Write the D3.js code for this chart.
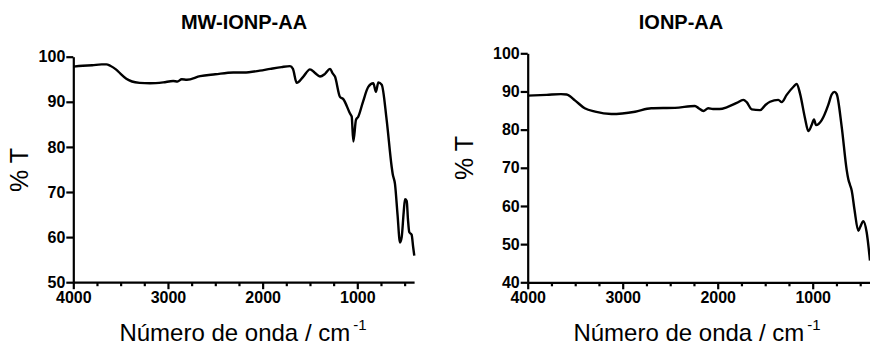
<!DOCTYPE html>
<html>
<head>
<meta charset="utf-8">
<script src="https://cdn.jsdelivr.net/npm/d3@7"></script>
<style>
  html, body { margin: 0; padding: 0; background: #fff; }
  svg { display: block; }
  text { font-family: "Liberation Sans", Arial, Helvetica, sans-serif; fill: #000; }
</style>
</head>
<body>
<script>
// FTIR spectra: wavenumber (cm-1) and % transmittance
const titles = ["MW-IONP-AA", "IONP-AA"];
const xTicksMajor = [4000, 3000, 2000, 1000];
const xTicksMinor = [3750, 3500, 3250, 2750, 2500, 2250, 1750, 1500, 1250, 750, 500];
const yTicksLeft = [50, 60, 70, 80, 90, 100];
const yTicksRight = [40, 50, 60, 70, 80, 90, 100];

const mwWavenumber = [4000, 3900, 3800, 3700, 3650, 3610, 3550, 3500, 3440, 3380, 3300, 3190, 3050, 2945, 2900, 2855, 2800, 2660, 2500, 2310, 2200, 2030, 1920, 1800, 1711, 1680, 1640, 1570, 1500, 1447, 1394, 1341, 1288, 1260, 1236, 1183, 1148, 1077, 1059, 1042, 1014, 990, 940, 884, 831, 803, 778, 742, 690, 637, 626, 602, 575, 549, 531, 510, 496, 478, 465, 451, 426, 410, 398];
const mwTransmittance = [97.8, 98.0, 98.1, 98.3, 98.3, 98.0, 97.2, 96.2, 95.1, 94.5, 94.2, 94.1, 94.3, 94.6, 94.5, 95.0, 94.9, 95.7, 96.1, 96.5, 96.5, 96.9, 97.3, 97.7, 97.9, 97.3, 94.2, 95.6, 97.2, 96.4, 95.6, 96.2, 97.3, 96.3, 95.6, 91.1, 90.6, 87.4, 86.7, 81.2, 86.0, 86.7, 90.0, 93.3, 94.1, 92.2, 94.3, 93.8, 86.0, 75.6, 74.0, 71.8, 65.0, 58.8, 60.0, 65.5, 68.4, 68.0, 64.0, 61.1, 60.5, 57.8, 55.9];

const ionpWavenumber = [4000, 3800, 3650, 3590, 3500, 3400, 3290, 3120, 2870, 2700, 2450, 2240, 2200, 2150, 2100, 2050, 1980, 1900, 1800, 1731, 1695, 1642, 1555, 1500, 1449, 1362, 1326, 1274, 1200, 1168, 1134, 1081, 1046, 1011, 986, 965, 905, 836, 800, 770, 747, 695, 642, 625, 607, 589, 560, 520, 500, 467, 432, 397];
const ionpTransmittance = [88.9, 89.1, 89.3, 89.2, 87.6, 85.6, 84.7, 84.1, 84.7, 85.6, 85.7, 86.2, 85.6, 84.9, 85.6, 85.4, 85.4, 85.9, 87.0, 87.8, 87.2, 85.3, 85.1, 86.4, 87.3, 87.8, 87.2, 89.1, 91.3, 92.0, 89.5, 83.0, 79.6, 81.2, 82.7, 81.2, 82.5, 86.5, 89.2, 89.9, 89.3, 80.8, 69.4, 67.0, 65.5, 64.0, 59.0, 53.5, 54.5, 56.0, 53.1, 45.7];

const svg = d3.select("body").append("svg")
  .attr("width", 870).attr("height", 348);

function drawPanel(p) {
  const x = d3.scaleLinear().domain([4000, 400]).range([p.left, p.right]);
  const y = d3.scaleLinear().domain([p.yMin, 100]).range([p.bottom, p.top]);
  const g = svg.append("g");

  // minor x ticks
  g.append("g")
    .attr("transform", `translate(0,${p.bottom})`)
    .call(d3.axisBottom(x).tickValues(xTicksMinor).tickSize(4).tickSizeOuter(0).tickFormat(""))
    .call(a => a.select(".domain").remove())
    .call(a => a.selectAll("line").attr("stroke", "#000").attr("stroke-width", 2.2));

  // major x ticks and labels
  g.append("g")
    .attr("transform", `translate(0,${p.bottom})`)
    .call(d3.axisBottom(x).tickValues(xTicksMajor).tickSize(7).tickSizeOuter(0).tickPadding(2).tickFormat(d3.format("d")))
    .call(a => a.select(".domain").attr("stroke", "#000").attr("stroke-width", 2.2))
    .call(a => a.selectAll("line").attr("stroke", "#000").attr("stroke-width", 2.2))
    .call(a => a.selectAll("text").attr("font-size", 16).attr("font-weight", "bold")
      .attr("font-family", "'Liberation Sans', Arial, sans-serif"));

  // y axis
  g.append("g")
    .attr("transform", `translate(${p.left},0)`)
    .call(d3.axisLeft(y).tickValues(p.yTicks).tickSize(7).tickSizeOuter(0).tickPadding(1).tickFormat(d3.format("d")))
    .call(a => a.select(".domain").attr("stroke", "#000").attr("stroke-width", 2.2))
    .call(a => a.selectAll("line").attr("stroke", "#000").attr("stroke-width", 2.2))
    .call(a => a.selectAll("text").attr("font-size", 16).attr("font-weight", "bold")
      .attr("font-family", "'Liberation Sans', Arial, sans-serif"));

  // spectrum
  const pts = p.wn.map((w, i) => [w, p.tr[i]]);
  g.append("path")
    .datum(pts)
    .attr("fill", "none")
    .attr("stroke", "#000")
    .attr("stroke-width", 2.4)
    .attr("stroke-linejoin", "round")
    .attr("d", d3.line().x(d => x(d[0])).y(d => y(d[1])).curve(d3.curveMonotoneX));

  // title
  g.append("text")
    .attr("x", p.titleX).attr("y", 29)
    .attr("text-anchor", "middle")
    .attr("font-size", 20).attr("font-weight", "bold")
    .text(p.title);

  // y label
  g.append("text")
    .attr("transform", `translate(${p.yLabelX},${p.yLabelY}) rotate(-90)`)
    .attr("text-anchor", "middle")
    .attr("font-size", 25)
    .text("% T");

  // x label
  const xl = g.append("text")
    .attr("x", p.xLabelX).attr("y", 341)
    .attr("text-anchor", "middle")
    .attr("font-size", 24);
  xl.append("tspan").text("Número de onda / cm");
  xl.append("tspan").attr("dy", -11).attr("dx", 3).attr("font-size", 15).text("-1");
}

drawPanel({
  title: titles[0], titleX: 244,
  left: 73.3, right: 414.1, top: 56.7, bottom: 282.2,
  yMin: 50, yTicks: yTicksLeft,
  wn: mwWavenumber, tr: mwTransmittance,
  yLabelX: 28, yLabelY: 170, xLabelX: 243
});

drawPanel({
  title: titles[1], titleX: 681,
  left: 527.7, right: 869.7, top: 53.3, bottom: 282.3,
  yMin: 40, yTicks: yTicksRight,
  wn: ionpWavenumber, tr: ionpTransmittance,
  yLabelX: 473, yLabelY: 158, xLabelX: 697
});
</script>
</body>
</html>
